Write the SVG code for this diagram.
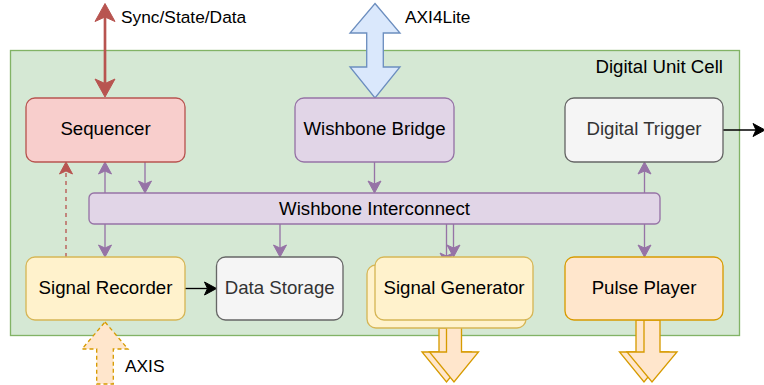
<svg xmlns="http://www.w3.org/2000/svg" width="764" height="385" viewBox="0 0 764 385">
<style>
text{font-family:"Liberation Sans",Arial,Helvetica,sans-serif;fill:#000}
.box{font-size:18.67px;text-anchor:middle}
.lbl{font-size:17.33px}
.grey{fill:#333333}
.pl{stroke:#9673a6;stroke-width:1.33;fill:none}
.flex{fill:#ffe6cc;stroke:#d79b00;stroke-width:1.33;stroke-linejoin:miter}
</style>
<defs>
<marker id="ap" markerUnits="userSpaceOnUse" markerWidth="20" markerHeight="20" refX="3" refY="0" orient="auto" overflow="visible"><path d="M0,-6.5 L12,0 L0,6.5 L3,0 Z" fill="#9673a6" stroke="#9673a6" stroke-width="1"/></marker>
<marker id="ak" markerUnits="userSpaceOnUse" markerWidth="20" markerHeight="20" refX="3" refY="0" orient="auto" overflow="visible"><path d="M0,-6.5 L12,0 L0,6.5 L3,0 Z" fill="#000" stroke="#000" stroke-width="1"/></marker>
<marker id="ar" markerUnits="userSpaceOnUse" markerWidth="20" markerHeight="20" refX="3" refY="0" orient="auto" overflow="visible"><path d="M0,-6.5 L12,0 L0,6.5 L3,0 Z" fill="#b85450" stroke="#b85450" stroke-width="1"/></marker>
<marker id="arb" markerUnits="userSpaceOnUse" markerWidth="30" markerHeight="30" refX="4.5" refY="0" orient="auto-start-reverse" overflow="visible"><path d="M0,-10 L18,0 L0,10 L4.5,0 Z" fill="#b85450" stroke="#b85450" stroke-width="1"/></marker>
</defs>

<g id="digital-unit-cell">
<rect x="10.5" y="50.5" width="729" height="285" fill="#d5e8d4" stroke="#82b366" stroke-width="1.33"/>
<text class="lbl" x="723" y="72.5" text-anchor="end" style="font-size:18.67px">Digital Unit Cell</text>
</g>

<g id="connectors">
<line x1="105" y1="17" x2="105" y2="83.5" stroke="#b85450" stroke-width="2.67" marker-start="url(#arb)" marker-end="url(#arb)"/>
<polygon points="375,3.5 400,33 383.3,33 383.3,67 400,67 375,98 350,67 366.7,67 366.7,33 350,33" fill="#dae8fc" stroke="#6c8ebf" stroke-width="1.33"/>
<line class="pl" x1="105" y1="193" x2="105" y2="171" marker-end="url(#ap)"/>
<line class="pl" x1="145" y1="162" x2="145" y2="184" marker-end="url(#ap)"/>
<line class="pl" x1="374.5" y1="162" x2="374.5" y2="184" marker-end="url(#ap)"/>
<line class="pl" x1="644.5" y1="193" x2="644.5" y2="171" marker-end="url(#ap)"/>
<line class="pl" x1="105" y1="224" x2="105" y2="248" marker-end="url(#ap)"/>
<line class="pl" x1="280" y1="224" x2="280" y2="248" marker-end="url(#ap)"/>
<line class="pl" x1="446.5" y1="224" x2="446.5" y2="256" marker-end="url(#ap)"/>
<line class="pl" x1="453.5" y1="224" x2="453.5" y2="248" marker-end="url(#ap)"/>
<line class="pl" x1="644.5" y1="224" x2="644.5" y2="248" marker-end="url(#ap)"/>
<line x1="66" y1="257" x2="66" y2="171" stroke="#b85450" stroke-width="1.33" stroke-dasharray="4 4" marker-end="url(#ar)"/>
<line x1="185" y1="288.5" x2="207.5" y2="288.5" stroke="#000" stroke-width="1.33" marker-end="url(#ak)"/>
<line x1="723" y1="130" x2="756" y2="130" stroke="#000" stroke-width="1.33" marker-end="url(#ak)"/>
<polygon class="flex" points="439,328 454,328 454,352 471,352 446.5,382 422,352 439,352"/>
<polygon class="flex" points="446.5,320 461.5,320 461.5,352 478.5,352 454,382 429.5,352 446.5,352"/>
<polygon class="flex" points="636,320 652,320 652,352 668.5,352 644,382 619.5,352 636,352"/>
<polygon class="flex" points="644,320 660,320 660,352 677,352 652,382 627,352 644,352"/>
<polygon class="flex" points="105,322 128,349 113.3,349 113.3,384 96.7,384 96.7,349 82,349" stroke-dasharray="4 3"/>
<text class="lbl" x="121" y="23">Sync/State/Data</text>
<text class="lbl" x="405" y="23">AXI4Lite</text>
<text class="lbl" x="125" y="372">AXIS</text>
</g>

<g id="sequencer">
<rect x="26" y="98" width="159" height="64" rx="9" fill="#f8cecc" stroke="#b85450" stroke-width="1.33"/>
<text class="box" x="105.5" y="135">Sequencer</text>
</g>
<g id="wishbone-bridge">
<rect x="295" y="98" width="159" height="64" rx="9" fill="#e1d5e7" stroke="#9673a6" stroke-width="1.33"/>
<text class="box" x="374.5" y="135">Wishbone Bridge</text>
</g>
<g id="digital-trigger">
<rect x="565" y="98" width="158" height="64" rx="9" fill="#f5f5f5" stroke="#666666" stroke-width="1.33"/>
<text class="box grey" x="644" y="135">Digital Trigger</text>
</g>
<g id="wishbone-interconnect">
<rect x="89" y="193" width="571" height="31" rx="5" fill="#e1d5e7" stroke="#9673a6" stroke-width="1.33"/>
<text class="box" x="374.5" y="215">Wishbone Interconnect</text>
</g>
<g id="signal-recorder">
<rect x="26" y="257" width="159" height="63" rx="9" fill="#fff2cc" stroke="#d6b656" stroke-width="1.33"/>
<text class="box" x="105.5" y="293.5">Signal Recorder</text>
</g>
<g id="data-storage">
<rect x="216.5" y="257" width="126.5" height="63" rx="9" fill="#f5f5f5" stroke="#666666" stroke-width="1.33"/>
<text class="box grey" x="279.7" y="293.5">Data Storage</text>
</g>
<g id="signal-generator">
<rect x="367" y="265" width="159" height="63" rx="9" fill="#fff2cc" stroke="#d6b656" stroke-width="1.33"/>
<rect x="375" y="257" width="158" height="63" rx="9" fill="#fff2cc" stroke="#d6b656" stroke-width="1.33"/>
<text class="box" x="454" y="293.5">Signal Generator</text>
</g>
<g id="pulse-player">
<rect x="565" y="257" width="158" height="63" rx="9" fill="#ffe6cc" stroke="#d79b00" stroke-width="1.33"/>
<text class="box" x="644" y="293.5">Pulse Player</text>
</g>
</svg>
